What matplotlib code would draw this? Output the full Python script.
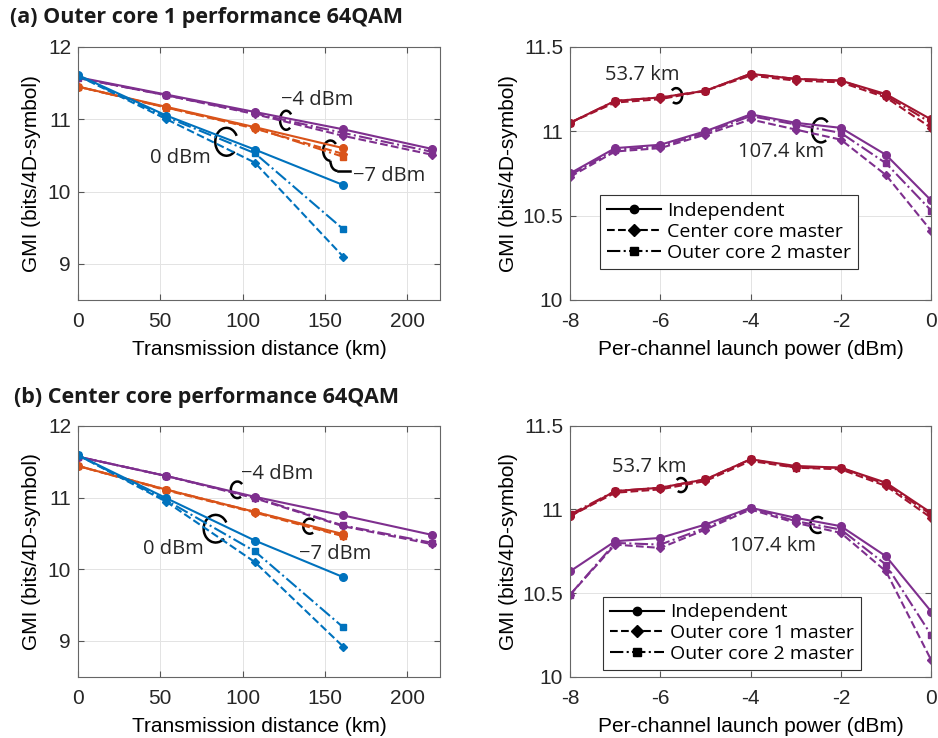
import matplotlib
matplotlib.use('Agg')
import matplotlib.pyplot as plt
from matplotlib.patches import Arc

matplotlib.rcParams['font.family'] = ['Liberation Sans', 'DejaVu Sans']
matplotlib.rcParams['font.size'] = 15
matplotlib.rcParams['axes.unicode_minus'] = False

# ---- data ----
dist = [0, 53.7, 107.4, 161.1, 214.8]
power = [-8, -7, -6, -5, -4, -3, -2, -1, 0]

# (a) outer core 1, GMI vs distance
a_0dBm_ind = [11.61, 11.05, 10.58, 10.09]
a_0dBm_cc = [11.60, 11.00, 10.40, 9.10]
a_0dBm_oc2 = [11.60, 11.03, 10.53, 9.48]
a_m7_ind = [11.45, 11.17, 10.89, 10.60]
a_m7_cc = [11.45, 11.16, 10.87, 10.52]
a_m7_oc2 = [11.45, 11.16, 10.88, 10.48]
a_m4_ind = [11.58, 11.34, 11.10, 10.86, 10.59]
a_m4_cc = [11.57, 11.33, 11.07, 10.77, 10.51]
a_m4_oc2 = [11.57, 11.33, 11.08, 10.81, 10.55]

# (a) outer core 1, GMI vs launch power
a_537_ind = [11.05, 11.18, 11.20, 11.24, 11.34, 11.31, 11.30, 11.22, 11.07]
a_537_cc = [11.05, 11.17, 11.19, 11.24, 11.33, 11.30, 11.29, 11.20, 11.02]
a_537_oc2 = [11.05, 11.18, 11.20, 11.24, 11.34, 11.31, 11.30, 11.21, 11.05]
a_1074_ind = [10.75, 10.90, 10.92, 11.00, 11.10, 11.05, 11.02, 10.86, 10.59]
a_1074_cc = [10.73, 10.88, 10.90, 10.98, 11.07, 11.01, 10.95, 10.74, 10.41]
a_1074_oc2 = [10.74, 10.89, 10.91, 10.99, 11.09, 11.04, 10.99, 10.81, 10.53]

# (b) center core, GMI vs distance
b_0dBm_ind = [11.59, 10.99, 10.40, 9.89]
b_0dBm_oc1 = [11.59, 10.94, 10.10, 8.92]
b_0dBm_oc2 = [11.59, 10.96, 10.25, 9.19]
b_m7_ind = [11.44, 11.11, 10.80, 10.49]
b_m7_oc1 = [11.44, 11.10, 10.79, 10.46]
b_m7_oc2 = [11.44, 11.11, 10.80, 10.47]
b_m4_ind = [11.57, 11.30, 11.01, 10.75, 10.48]
b_m4_oc1 = [11.57, 11.30, 10.99, 10.60, 10.35]
b_m4_oc2 = [11.57, 11.30, 11.00, 10.61, 10.37]

# (b) center core, GMI vs launch power
b_537_ind = [10.96, 11.11, 11.13, 11.18, 11.30, 11.26, 11.25, 11.16, 10.98]
b_537_oc1 = [10.96, 11.10, 11.12, 11.17, 11.29, 11.25, 11.24, 11.14, 10.95]
b_537_oc2 = [10.97, 11.11, 11.13, 11.18, 11.30, 11.25, 11.25, 11.15, 10.97]
b_1074_ind = [10.63, 10.81, 10.83, 10.91, 11.01, 10.95, 10.90, 10.72, 10.39]
b_1074_oc1 = [10.49, 10.79, 10.77, 10.88, 11.00, 10.92, 10.86, 10.63, 10.10]
b_1074_oc2 = [10.49, 10.80, 10.79, 10.89, 11.01, 10.93, 10.88, 10.67, 10.25]

blue = '#0072BD'
orange = '#D95319'
purple = '#7E2F8E'
red = '#A2142F'
ann_font = ['Open Sans', 'DejaVu Sans']

fig = plt.figure(figsize=(9.38, 7.38), dpi=100)
ax1 = fig.add_axes([0.0832, 0.5935, 0.386, 0.3430])
ax2 = fig.add_axes([0.6077, 0.5935, 0.385, 0.3430])
ax3 = fig.add_axes([0.0832, 0.0830, 0.386, 0.3400])
ax4 = fig.add_axes([0.6077, 0.0830, 0.385, 0.3400])


def style(ax):
    ax.grid(True, color='#e3e3e3', lw=0.7)
    ax.set_axisbelow(True)
    ax.tick_params(direction='in', top=True, right=True, length=4,
                   color='#555555', labelcolor='#262626', pad=5)
    ax.tick_params(axis='x', pad=9)
    for s in ax.spines.values():
        s.set_color('#666666')
        s.set_linewidth(0.8)


def three(ax, x, ind, d1, d2, c):
    n = len(ind)
    ax.plot(x[:n], ind, '-', color=c, lw=1.5, marker='o', ms=5.5)
    ax.plot(x[:n], d1, '--', color=c, lw=1.5, marker='D', ms=4.5)
    ax.plot(x[:n], d2, '-.', color=c, lw=1.5, marker='s', ms=5)


def carc(ax, cx, cy, w, h, t1, t2):
    ax.add_patch(Arc((cx, cy), w, h, theta1=t1, theta2=t2,
                     transform=ax.transAxes, color='black', lw=1.8))


def label(ax, x, y, s):
    ax.text(x, y, s, transform=ax.transAxes, va='center', ha='left',
            fontsize=14.5, family=ann_font, color='#262626')


# ---- distance panels ----
for ax, d0, m7, m4 in [(ax1, (a_0dBm_ind, a_0dBm_cc, a_0dBm_oc2),
                        (a_m7_ind, a_m7_cc, a_m7_oc2),
                        (a_m4_ind, a_m4_cc, a_m4_oc2)),
                       (ax3, (b_0dBm_ind, b_0dBm_oc1, b_0dBm_oc2),
                        (b_m7_ind, b_m7_oc1, b_m7_oc2),
                        (b_m4_ind, b_m4_oc1, b_m4_oc2))]:
    three(ax, dist, *m4, purple)
    three(ax, dist, *m7, orange)
    three(ax, dist, *d0, blue)
    ax.set_xlim(0, 220)
    ax.set_ylim(8.5, 12)
    ax.set_xticks([0, 50, 100, 150, 200])
    ax.set_yticks([9, 10, 11, 12])
    ax.set_xlabel('Transmission distance (km)', labelpad=6)
    ax.set_ylabel('GMI (bits/4D-symbol)', labelpad=5)
    style(ax)

# ---- power panels ----
for ax, r, p, names in [(ax2, (a_537_ind, a_537_cc, a_537_oc2),
                         (a_1074_ind, a_1074_cc, a_1074_oc2),
                         ['Independent', 'Center core master', 'Outer core 2 master']),
                        (ax4, (b_537_ind, b_537_oc1, b_537_oc2),
                         (b_1074_ind, b_1074_oc1, b_1074_oc2),
                         ['Independent', 'Outer core 1 master', 'Outer core 2 master'])]:
    three(ax, power, *p, purple)
    three(ax, power, *r, red)
    ax.set_xlim(-8, 0)
    ax.set_ylim(10, 11.5)
    ax.set_xticks([-8, -6, -4, -2, 0])
    ax.set_yticks([10, 10.5, 11, 11.5])
    ax.set_yticklabels(['10', '10.5', '11', '11.5'])
    ax.set_xlabel('Per-channel launch power (dBm)', labelpad=6)
    ax.set_ylabel('GMI (bits/4D-symbol)', labelpad=3)
    style(ax)
    h1, = ax.plot([], [], '-', color='k', lw=1.5, marker='o', ms=6)
    h2, = ax.plot([], [], '--', color='k', lw=1.5, marker='D', ms=6)
    h3, = ax.plot([], [], '-.', color='k', lw=1.5, marker='s', ms=6)
    lg = ax.legend([h1, h2, h3], names, loc='lower left',
                   bbox_to_anchor=(0.083, 0.124) if ax is ax2 else (0.091, 0.027),
                   borderaxespad=0, handlelength=2.8, handletextpad=0.3,
                   labelspacing=0.15, borderpad=0.35, fancybox=False,
                   framealpha=1, prop={'family': ann_font, 'size': 14})
    lg.get_frame().set_edgecolor('#333333')
    lg.get_frame().set_linewidth(0.8)

# ---- annotations ----
carc(ax1, 0.575, 0.71, 0.034, 0.075, 60, 290)
label(ax1, 0.56, 0.79, '\u22124 dBm')
carc(ax1, 0.41, 0.625, 0.062, 0.11, 40, 300)
label(ax1, 0.2, 0.56, '0 dBm')
carc(ax1, 0.697, 0.59, 0.04, 0.08, 60, 270)
ax1.add_patch(Arc((0.717, 0.55), 0.04, 0.08, theta1=180, theta2=270,
                  transform=ax1.transAxes, color='black', lw=1.8))
ax1.plot([0.717, 0.75], [0.51, 0.51], color='k', lw=1.8, transform=ax1.transAxes)
label(ax1, 0.76, 0.49, '\u22127 dBm')

carc(ax3, 0.44, 0.745, 0.036, 0.066, 60, 290)
label(ax3, 0.45, 0.81, '\u22124 dBm')
carc(ax3, 0.38, 0.59, 0.066, 0.11, 40, 300)
label(ax3, 0.18, 0.51, '0 dBm')
carc(ax3, 0.64, 0.6, 0.036, 0.06, 60, 290)
label(ax3, 0.61, 0.49, '\u22127 dBm')

carc(ax2, 0.294, 0.807, 0.033, 0.06, -110, 120)
label(ax2, 0.097, 0.888, '53.7 km')
carc(ax2, 0.695, 0.67, 0.05, 0.095, 60, 290)
label(ax2, 0.465, 0.584, '107.4 km')

carc(ax4, 0.307, 0.764, 0.033, 0.056, -110, 120)
label(ax4, 0.116, 0.835, '53.7 km')
carc(ax4, 0.686, 0.605, 0.042, 0.064, 60, 290)
label(ax4, 0.443, 0.521, '107.4 km')

fig.text(0.011, 1 - 17 / 738, '(a) Outer core 1 performance 64QAM', va='center',
         fontsize=15.5, weight='bold', family=ann_font, color='#1a1a1a')
fig.text(0.015, 1 - 397 / 738, '(b) Center core performance 64QAM', va='center',
         fontsize=15.5, weight='bold', family=ann_font, color='#1a1a1a')

plt.savefig('out.png', dpi=100)
